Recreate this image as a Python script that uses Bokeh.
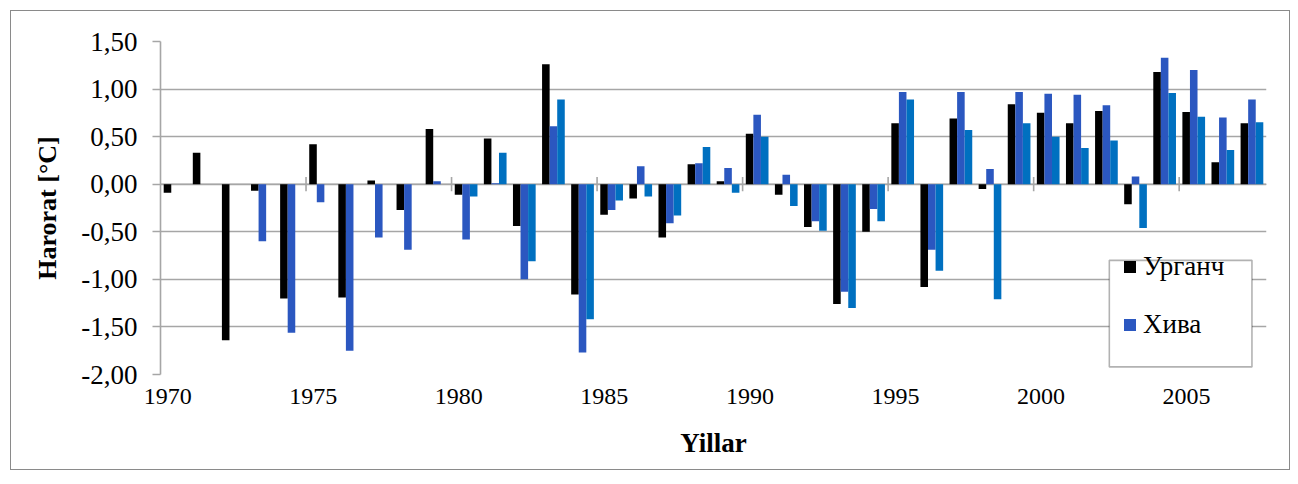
from bokeh.plotting import figure
from bokeh.models import (Range1d, FixedTicker, Legend, LegendItem, BoxAnnotation,
                          Span, ColumnDataSource)
from bokeh.transform import dodge
from bokeh.embed import file_html
from bokeh.resources import INLINE

# ---------------- data ----------------
years = list(range(1970, 2008))
nan = float("nan")
urganch = [-0.09, 0.33, -1.64, -0.07, -1.20, 0.42, -1.19, 0.04, -0.27, 0.58,
           -0.11, 0.48, -0.44, 1.26, -1.16, -0.32, -0.15, -0.56, 0.21, 0.03,
           0.53, -0.11, -0.45, -1.26, -0.50, 0.64, -1.08, 0.69, -0.05, 0.84,
           0.75, 0.64, 0.77, -0.21, 1.18, 0.76, 0.23, 0.64]
khiva = [nan, nan, nan, -0.60, -1.56, -0.19, -1.75, -0.56, -0.69, 0.03,
         -0.58, 0.01, -1.00, 0.61, -1.77, -0.27, 0.19, -0.41, 0.22, 0.17,
         0.73, 0.10, -0.39, -1.13, -0.26, 0.97, -0.69, 0.97, 0.16, 0.97,
         0.95, 0.94, 0.83, 0.08, 1.33, 1.20, 0.70, 0.89]
series3 = [nan] * 10 + [
    -0.13, 0.33, -0.81, 0.89, -1.42, -0.17, -0.13, -0.33, 0.39, -0.09,
    0.50, -0.23, -0.49, -1.30, -0.39, 0.89, -0.91, 0.57, -1.21, 0.64,
    0.50, 0.38, 0.46, -0.46, 0.96, 0.71, 0.36, 0.65]
series_names = ["Урганч", "Хива"]
x_tick_years = [1970, 1975, 1980, 1985, 1990, 1995, 2000, 2005]
y_ticks = [-2.0, -1.5, -1.0, -0.5, 0.0, 0.5, 1.0, 1.5]
y_tick_labels = ["-2,00", "-1,50", "-1,00", "-0,50", "0,00", "0,50", "1,00", "1,50"]

# ---------------- style ----------------
FONT = "'Liberation Serif', 'Times New Roman', serif"
GRID = "#a6a6a6"
C_U, C_K, C_3 = "#000000", "#2b57c0", "#0070c0"
BW = 0.26

p = figure(width=1280, height=460, output_backend="svg", toolbar_location=None,
           x_range=Range1d(1969.5, 2007.5), y_range=Range1d(-2.0, 1.5),
           min_border_left=149, min_border_right=25, min_border_top=30,
           min_border_bottom=97)
p.margin = (10, 0, 0, 10)
p.styles = {"border": "1px solid #8a8a8a"}
p.outline_line_color = None
p.background_fill_color = "white"

src = ColumnDataSource(dict(x=years, u=urganch, k=khiva, s3=series3))
r1 = p.vbar(x=dodge("x", -BW, range=p.x_range), top="u", bottom=0, width=BW,
            source=src, fill_color=C_U, line_color=None)
r2 = p.vbar(x=dodge("x", 0.0, range=p.x_range), top="k", bottom=0, width=BW,
            source=src, fill_color=C_K, line_color=None)
r3 = p.vbar(x=dodge("x", BW, range=p.x_range), top="s3", bottom=0, width=BW,
            source=src, fill_color=C_3, line_color=None)

# zero line and its cross ticks
p.add_layout(Span(location=0, dimension="width", line_color=GRID, line_width=1.6,
                  level="underlay"))
bx = [y + 4.5 for y in x_tick_years[:-1]]
p.segment(x0=bx, x1=bx, y0=[-0.075] * len(bx), y1=[0.075] * len(bx),
          line_color=GRID, line_width=1.6, level="underlay")

# axes
p.xgrid.visible = False
p.ygrid.ticker = FixedTicker(ticks=y_ticks)
p.ygrid.grid_line_color = GRID
p.ygrid.grid_line_width = 1.6

ya = p.yaxis[0]
ya.ticker = FixedTicker(ticks=y_ticks)
ya.major_label_overrides = {t: s for t, s in zip(y_ticks, y_tick_labels)}
ya.axis_line_color = GRID
ya.axis_line_width = 1.6
ya.major_tick_line_color = GRID
ya.major_tick_line_width = 1.6
ya.major_tick_in = 0
ya.major_tick_out = 8
ya.minor_tick_line_color = None
ya.major_label_standoff = 15
ya.major_label_text_font = FONT
ya.major_label_text_font_size = "27px"
ya.major_label_text_color = "#000000"
ya.axis_label = "Harorat [°C]"
ya.axis_label_text_font = FONT
ya.axis_label_text_font_style = "bold"
ya.axis_label_text_font_size = "26px"
ya.axis_label_text_color = "#000000"
ya.axis_label_standoff = 16

xa = p.xaxis[0]
xpos = [y - 0.25 for y in x_tick_years]
xa.ticker = FixedTicker(ticks=xpos)
xa.major_label_overrides = {t: str(y) for t, y in zip(xpos, x_tick_years)}
xa.axis_line_color = None
xa.major_tick_line_color = None
xa.minor_tick_line_color = None
xa.major_tick_out = 0
xa.major_tick_in = 0
xa.major_label_standoff = 14
xa.major_label_text_font = FONT
xa.major_label_text_font_size = "24px"
xa.major_label_text_color = "#000000"
xa.axis_label = "Yillar"
xa.axis_label_text_font = FONT
xa.axis_label_text_font_style = "bold"
xa.axis_label_text_font_size = "27px"
xa.axis_label_text_color = "#000000"
xa.axis_label_standoff = 21

# legend box (white, black border) and legend items
p.add_layout(BoxAnnotation(left=2002.1, right=2007.0, top=-0.80, bottom=-1.92,
                           fill_color="white", fill_alpha=1.0, line_color="black",
                           line_width=1.6))
leg = Legend(items=[LegendItem(label=series_names[0], renderers=[r1]),
                    LegendItem(label=series_names[1], renderers=[r2])],
             location=(962, 34), padding=0, spacing=27, margin=0,
             label_height=27, glyph_height=15, glyph_width=15, label_standoff=6,
             label_text_font=FONT, label_text_font_size="27px",
             label_text_color="#000000", border_line_alpha=0,
             background_fill_alpha=0)
p.add_layout(leg, "center")

open("out.html", "w").write(file_html(p, INLINE))
